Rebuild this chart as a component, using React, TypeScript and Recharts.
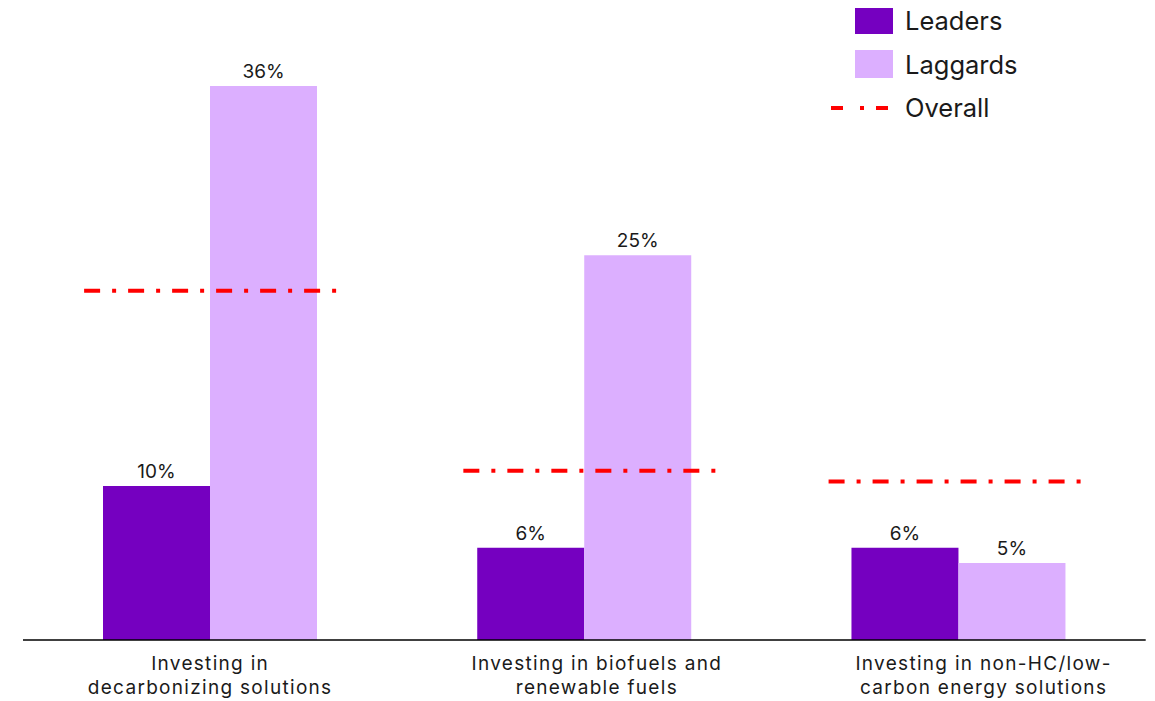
import React from "react";
import { ComposedChart, Bar, Line, XAxis, YAxis, LabelList } from "recharts";

const categories = [
  "Investing in\ndecarbonizing solutions",
  "Investing in biofuels and\nrenewable fuels",
  "Investing in non-HC/low-\ncarbon energy solutions",
];
const leaders = [10, 6, 6];
const laggards = [36, 25, 5];
const overall = [22.7, 11, 10.3];

const data = categories.map((c, i) => ({
  category: c,
  Leaders: leaders[i],
  Laggards: laggards[i],
  Overall: overall[i],
}));

const FONT = "Inter, 'Noto Sans', sans-serif";
const PURPLE = "#7500c0";
const LILAC = "#dcafff";
const RED = "#ff0000";
const TEXT = "#1a1a1a";

const CategoryTick = (props: any) => {
  const { x, y, payload, index } = props;
  const lines = String(payload.value).split("\n");
  const shift = (index ?? 0) * 12.5;
  return (
    <g transform={`translate(${x + shift},${y})`}>
      {lines.map((l, i) => (
        <text
          key={i}
          x={0}
          y={22 + i * 24}
          textAnchor="middle"
          fontSize={19}
          letterSpacing={1.3}
          fontFamily={FONT}
          fill={TEXT}
        >
          {l}
        </text>
      ))}
    </g>
  );
};

const OverallDot = (props: any) => {
  const { cx, cy, index } = props;
  if (cx == null || cy == null) return <g key={index} />;
  const shift = ((index ?? 0) - 1) * 5 - ((index ?? 0) === 0 ? 0 : 0);
  const c = cx + (index === 1 ? 5 : index === 2 ? -4 : 0);
  return (
    <line
      key={index}
      x1={c - 126}
      x2={c + 126}
      y1={cy}
      y2={cy}
      stroke={RED}
      strokeWidth={4}
      strokeDasharray="16 12 4 12"
      data-s={shift}
    />
  );
};

const LegendBox = () => (
  <svg
    width={300}
    height={130}
    style={{ position: "absolute", left: 823, top: -1, overflow: "visible" }}
  >
    <rect x={24} y={0} width={38} height={27} fill={PURPLE} />
    <text x={74} y={23} fontSize={25.5} fontFamily={FONT} fill={TEXT}>Leaders</text>
    <rect x={24} y={43} width={38} height={28} fill={LILAC} />
    <text x={74} y={67} fontSize={25.5} fontFamily={FONT} fill={TEXT}>Laggards</text>
    <line x1={0} x2={58} y1={101} y2={101} stroke={RED} strokeWidth={4} strokeDasharray="12 17 4 12" />
    <text x={74} y={110} fontSize={25.5} fontFamily={FONT} fill={TEXT}>Overall</text>
  </svg>
);

export default function App() {
  return (
    <div style={{ width: 1147, height: 693, position: "relative" }}>
      <ComposedChart
        width={1147}
        height={693}
        data={data}
        margin={{ top: 16.4, right: 9.3, bottom: 0, left: 15 }}
        barGap={0}
      >
        <XAxis
          dataKey="category"
          height={61}
          tickLine={false}
          axisLine={{ stroke: "#000", strokeWidth: 1.5 }}
          tick={<CategoryTick />}
          interval={0}
        />
        <YAxis hide domain={[0, 40]} />
        <Bar dataKey="Leaders" fill={PURPLE} barSize={107} isAnimationActive={false}>
          <LabelList
            dataKey="Leaders"
            position="top"
            offset={8}
            formatter={(v: any) => `${v}%`}
            style={{ fontSize: 19, fontFamily: FONT, fill: TEXT }}
          />
        </Bar>
        <Bar dataKey="Laggards" fill={LILAC} barSize={107} isAnimationActive={false}>
          <LabelList
            dataKey="Laggards"
            position="top"
            offset={8}
            formatter={(v: any) => `${v}%`}
            style={{ fontSize: 19, fontFamily: FONT, fill: TEXT }}
          />
        </Bar>
        <Line
          dataKey="Overall"
          stroke="none"
          dot={<OverallDot />}
          activeDot={false}
          legendType="none"
          isAnimationActive={false}
        />
      </ComposedChart>
      <LegendBox />
    </div>
  );
}
